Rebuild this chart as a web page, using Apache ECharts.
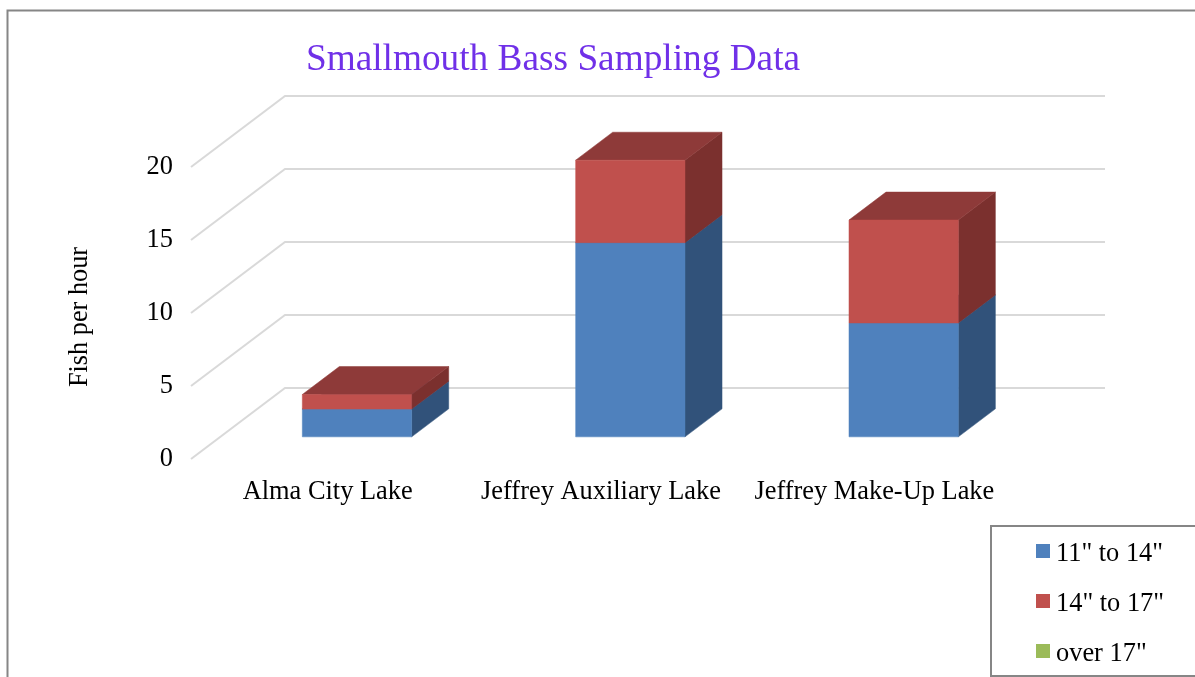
<!DOCTYPE html>
<html>
<head>
<meta charset="utf-8">
<title>Smallmouth Bass Sampling Data</title>
<script src="https://cdn.jsdelivr.net/npm/echarts@6/dist/echarts.min.js"></script>
<style>
  html, body { margin: 0; padding: 0; background: #fff; overflow: hidden; }
  #chart { width: 1195px; height: 677px; }
</style>
</head>
<body>
<div id="chart"></div>
<script>
const categories = ['Alma City Lake', 'Jeffrey Auxiliary Lake', 'Jeffrey Make-Up Lake'];
const size11to14 = [1.9, 13.3, 7.8];
const size14to17 = [1.0, 5.65, 7.05];
const sizeOver17 = [0, 0, 0];
const yTicks = [0, 5, 10, 15, 20];

const FONT = '"Liberation Serif", "Times New Roman", serif';

// floor depth of the fake 3D box, and where the bars stand inside it
const DEPTH_X = 94;
const DEPTH_Y = 71;
const BAR_START = 0.312;
const BAR_DEPTH = 0.394;

const poly = (points, color) => ({
  type: 'polygon',
  shape: { points },
  style: { fill: color, stroke: color, lineWidth: 0.5 }
});

const renderWalls = (params, api) => {
  const rect = params.coordSys;
  const y = api.coord([0, api.value(1)])[1];
  const style = { stroke: '#d9d9d9', lineWidth: 2, fill: 'none' };
  return {
    type: 'polyline',
    shape: {
      points: [
        [rect.x, y],
        [rect.x + DEPTH_X, y - DEPTH_Y],
        [rect.x + rect.width + DEPTH_X, y - DEPTH_Y]
      ]
    },
    style
  };
};

const makeBarRenderer = (front, top, side) => (params, api) => {
  const value = api.value(1);
  if (!value) return null;
  const base = api.value(2);
  const width = api.size([1, 0])[0] * 0.4;
  const shiftX = DEPTH_X * BAR_START;
  const shiftY = DEPTH_Y * BAR_START;
  const dx = DEPTH_X * BAR_DEPTH;
  const dy = DEPTH_Y * BAR_DEPTH;
  const low = api.coord([api.value(0), base]);
  const high = api.coord([api.value(0), base + value]);
  const x0 = low[0] - width / 2 + shiftX;
  const x1 = x0 + width;
  const y0 = low[1] - shiftY;
  const y1 = high[1] - shiftY;
  return {
    type: 'group',
    children: [
      poly([[x1, y0], [x1 + dx, y0 - dy], [x1 + dx, y1 - dy], [x1, y1]], side),
      poly([[x0, y1], [x1, y1], [x1 + dx, y1 - dy], [x0 + dx, y1 - dy]], top),
      poly([[x0, y0], [x1, y0], [x1, y1], [x0, y1]], front)
    ]
  };
};

const toStacked = (values, below) => values.map((v, i) => [i, v, below[i]]);
const base2 = size11to14;
const base3 = size11to14.map((v, i) => v + size14to17[i]);

const option = {
  backgroundColor: '#fff',
  animation: false,
  title: {
    text: 'Smallmouth Bass Sampling Data',
    left: 548,
    top: 37,
    textAlign: 'center',
    textStyle: { fontFamily: FONT, fontSize: 37.3, fontWeight: 'normal', color: '#7030e8' }
  },
  legend: {
    orient: 'vertical',
    left: 1031,
    top: 530,
    itemWidth: 14,
    itemHeight: 14,
    itemGap: 18,
    icon: 'rect',
    data: ['11" to 14"', '14" to 17"', 'over 17"'],
    formatter: '{t|{name}}',
    textStyle: {
      rich: {
        t: { fontFamily: FONT, fontSize: 26.4, color: '#000', padding: [6, 0, 0, 1], lineHeight: 26 }
      }
    }
  },
  grid: { left: 191, top: 167, width: 820, height: 292, containLabel: false },
  xAxis: {
    type: 'category',
    data: categories,
    axisLine: { show: false },
    axisTick: { show: false },
    axisLabel: { fontFamily: FONT, fontSize: 26.4, color: '#000', margin: 20, interval: 0 }
  },
  yAxis: {
    type: 'value',
    min: yTicks[0],
    max: yTicks[yTicks.length - 1],
    interval: 5,
    name: 'Fish per hour',
    nameLocation: 'middle',
    nameGap: 98,
    nameTextStyle: { fontFamily: FONT, fontSize: 26.3, color: '#000', padding: [0, 8, 0, 0] },
    axisLine: { show: false },
    axisTick: { show: false },
    splitLine: { show: false },
    axisLabel: { fontFamily: FONT, fontSize: 26.4, color: '#000', margin: 18 }
  },
  graphic: [
    { type: 'rect', shape: { x: 7.5, y: 10.5, width: 1400, height: 900 }, style: { fill: 'none', stroke: '#868686', lineWidth: 2 }, silent: true },
    { type: 'rect', shape: { x: 991, y: 526, width: 400, height: 150 }, style: { fill: '#fff', stroke: '#868686', lineWidth: 2 }, silent: true, z: -1 }
  ],
  series: [
    {
      type: 'custom',
      name: 'walls',
      renderItem: renderWalls,
      data: yTicks.map(t => [0, t]),
      encode: { x: 0, y: 1 },
      silent: true
    },
    {
      type: 'custom',
      name: '11" to 14"',
      renderItem: makeBarRenderer('#4f81bd', '#3b6290', '#31527a'),
      data: toStacked(size11to14, [0, 0, 0]),
      encode: { x: 0, y: 1 },
      itemStyle: { color: '#4f81bd' }
    },
    {
      type: 'custom',
      name: '14" to 17"',
      renderItem: makeBarRenderer('#c0504d', '#8e3a39', '#7b302e'),
      data: toStacked(size14to17, base2),
      encode: { x: 0, y: 1 },
      itemStyle: { color: '#c0504d' }
    },
    {
      type: 'custom',
      name: 'over 17"',
      renderItem: makeBarRenderer('#9bbb59', '#748c43', '#617538'),
      data: toStacked(sizeOver17, base3),
      encode: { x: 0, y: 1 },
      itemStyle: { color: '#9bbb59' }
    }
  ]
};

const chart = echarts.init(document.getElementById('chart'), null, { renderer: 'canvas' });
chart.setOption(option);
</script>
</body>
</html>
